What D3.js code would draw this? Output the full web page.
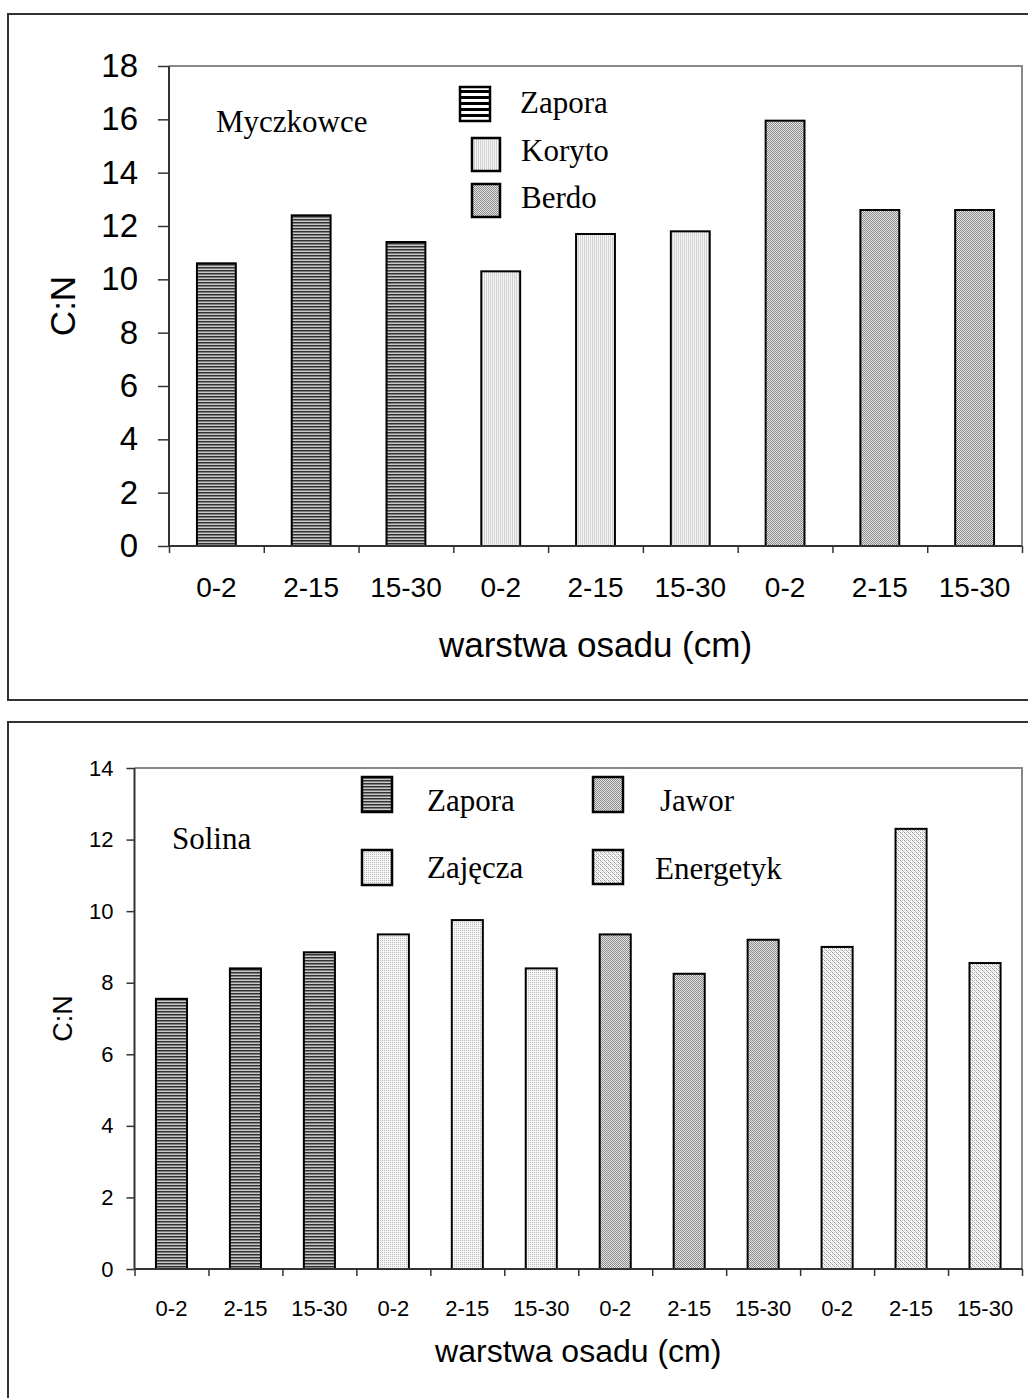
<!DOCTYPE html>
<html>
<head>
<meta charset="utf-8">
<script src="https://cdn.jsdelivr.net/npm/d3@7"></script>
<style>
  body { margin: 0; background: #fff; }
  svg { display: block; }
</style>
</head>
<body>
<div id="chart"></div>
<script>
// data
var layers = ["0-2", "2-15", "15-30"];

var sitesTop  = ["Zapora", "Koryto", "Berdo"];
var valuesTop = [
    [10.6, 12.4, 11.4],
    [10.3, 11.7, 11.8],
    [15.95, 12.6, 12.6]
];
var yTicksTop = [0, 2, 4, 6, 8, 10, 12, 14, 16, 18];

var sitesBottom  = ["Zapora", "Zajęcza", "Jawor", "Energetyk"];
var valuesBottom = [
    [7.55, 8.4, 8.85],
    [9.35, 9.75, 8.4],
    [9.35, 8.25, 9.2],
    [9.0, 12.3, 8.55]
];
var yTicksBottom = [0, 2, 4, 6, 8, 10, 12, 14];

var svg = d3.select("#chart").append("svg")
    .attr("width", 1028)
    .attr("height", 1398);

// fill patterns
var defs = svg.append("defs");

function pat(id, w, h, bg, cells) {
    var p = defs.append("pattern")
        .attr("id", id)
        .attr("patternUnits", "userSpaceOnUse")
        .attr("width", w)
        .attr("height", h);
    p.append("rect").attr("width", w).attr("height", h).attr("fill", bg);
    cells.forEach(function(c) {
        p.append("rect")
            .attr("x", c[0]).attr("y", c[1])
            .attr("width", c[2]).attr("height", c[3])
            .attr("fill", c[4]);
    });
}

pat("stripes", 4, 3, "#c8c8c8", [[0, 0, 4, 1.5, "#333"]]);
pat("stripesBig", 4, 6, "#ffffff", [[0, 0, 4, 3, "#000"]]);
pat("vlines", 2, 2, "#f6f6f6", [[0, 0, 1, 2, "#d2d2d2"]]);
pat("checker", 2, 2, "#e6e6e6", [[0, 0, 1, 1, "#8a8a8a"], [1, 1, 1, 1, "#8a8a8a"]]);
pat("dots", 2, 2, "#f7f7f7", [[0, 0, 1, 1, "#b8b8b8"]]);
pat("diag", 4, 4, "#fafafa", [[0, 0, 1, 1, "#999"], [1, 1, 1, 1, "#bbb"], [2, 2, 1, 1, "#999"], [3, 3, 1, 1, "#bbb"], [2, 0, 1, 1, "#ccc"], [0, 2, 1, 1, "#ccc"]]);

// outer frames
svg.append("rect")
    .attr("x", 8).attr("y", 14)
    .attr("width", 1100).attr("height", 686)
    .attr("fill", "none").attr("stroke", "#333").attr("stroke-width", 2);

svg.append("rect")
    .attr("x", 8).attr("y", 722)
    .attr("width", 1100).attr("height", 700)
    .attr("fill", "none").attr("stroke", "#333").attr("stroke-width", 2);


function drawChart(o) {
    var n = o.values.length * layers.length;
    var idx = d3.range(n);

    var x = d3.scaleBand()
        .domain(idx)
        .range([o.left, o.right])
        .paddingInner(o.pad)
        .paddingOuter(o.pad / 2);

    var xSlot = d3.scaleBand()
        .domain(idx)
        .range([o.left, o.right]);

    var xEdge = d3.scaleLinear()
        .domain([0, n])
        .range([o.left, o.right]);

    var y = d3.scaleLinear()
        .domain([0, o.yMax])
        .range([o.bottom, o.top]);

    var g = svg.append("g");

    // plot area border (top / right)
    g.append("path")
        .attr("d", "M" + o.left + "," + o.top + "H" + o.right + "V" + o.bottom)
        .attr("fill", "none")
        .attr("stroke", "#888")
        .attr("stroke-width", 2);

    // bars
    var flat = [];
    o.values.forEach(function(vals, s) {
        vals.forEach(function(v, l) {
            flat.push({site: s, layer: l, value: v, i: s * layers.length + l});
        });
    });

    g.selectAll(".bar")
        .data(flat)
        .enter().append("rect")
        .attr("class", "bar")
        .attr("x", function(d) { return x(d.i); })
        .attr("width", x.bandwidth())
        .attr("y", function(d) { return y(d.value); })
        .attr("height", function(d) { return o.bottom - y(d.value); })
        .attr("fill", function(d) { return "url(#" + o.fills[d.site] + ")"; })
        .attr("stroke", "#000")
        .attr("stroke-width", 2);

    // y axis
    var yAxis = g.append("g")
        .attr("transform", "translate(" + o.left + ",0)")
        .call(d3.axisLeft(y)
            .tickValues(o.yTicks)
            .tickSize(o.yTickSize)
            .tickPadding(o.yPad)
            .tickFormat(d3.format("d")));
    yAxis.select(".domain").attr("stroke", "#333").attr("stroke-width", 2)
        .attr("d", "M0," + o.top + "V" + o.bottom);
    yAxis.selectAll(".tick line").attr("stroke", "#333").attr("stroke-width", 1.5);
    yAxis.selectAll("text")
        .attr("font-family", "Arial, 'Liberation Sans', sans-serif")
        .attr("font-size", o.yFont)
        .attr("fill", "#000");

    // x axis: tick marks on category edges
    var xTicks = g.append("g")
        .attr("transform", "translate(0," + o.bottom + ")")
        .call(d3.axisBottom(xEdge)
            .tickValues(d3.range(n + 1))
            .tickSize(7)
            .tickFormat(""));
    xTicks.select(".domain").attr("stroke", "#333").attr("stroke-width", 2)
        .attr("d", "M" + o.left + ",0H" + o.right);
    xTicks.selectAll(".tick line").attr("stroke", "#333").attr("stroke-width", 1.5);

    // x axis labels
    var xLabels = g.append("g")
        .attr("transform", "translate(0," + o.bottom + ")")
        .call(d3.axisBottom(xSlot)
            .tickSize(0)
            .tickFormat(function(i) { return layers[i % layers.length]; }));
    xLabels.select(".domain").remove();
    xLabels.selectAll("text")
        .attr("y", o.xLabelDy)
        .attr("dy", 0)
        .attr("font-family", "Arial, 'Liberation Sans', sans-serif")
        .attr("font-size", o.xFont)
        .attr("fill", "#000");

    // axis titles
    g.append("text")
        .attr("x", (o.left + o.right) / 2)
        .attr("y", o.titleY)
        .attr("text-anchor", "middle")
        .attr("font-family", "Arial, 'Liberation Sans', sans-serif")
        .attr("font-size", o.titleFont)
        .text("warstwa osadu (cm)");

    g.append("text")
        .attr("transform", "translate(" + o.cnX + "," + ((o.top + o.bottom) / 2) + ") rotate(-90)")
        .attr("text-anchor", "middle")
        .attr("font-family", "Arial, 'Liberation Sans', sans-serif")
        .attr("font-size", o.cnFont)
        .text("C:N");

    // reservoir name
    g.append("text")
        .attr("x", o.name[1])
        .attr("y", o.name[2])
        .attr("font-family", "'Times New Roman', 'Liberation Serif', serif")
        .attr("font-size", o.serifFont)
        .text(o.name[0]);

    // legend
    var leg = g.selectAll(".legend")
        .data(o.sites)
        .enter().append("g")
        .attr("class", "legend");

    leg.append("rect")
        .attr("x", function(d, i) { return o.legend[i][0]; })
        .attr("y", function(d, i) { return o.legend[i][1]; })
        .attr("width", function(d, i) { return o.legend[i][2]; })
        .attr("height", function(d, i) { return o.legend[i][3]; })
        .attr("fill", function(d, i) { return "url(#" + (o.legendFills || o.fills)[i] + ")"; })
        .attr("stroke", "#000")
        .attr("stroke-width", 2.5);

    leg.append("text")
        .attr("x", function(d, i) { return o.legend[i][4]; })
        .attr("y", function(d, i) { return o.legend[i][5]; })
        .attr("font-family", "'Times New Roman', 'Liberation Serif', serif")
        .attr("font-size", o.serifFont)
        .text(function(d) { return d; });
}

drawChart({
    values: valuesTop,
    sites: sitesTop,
    yTicks: yTicksTop,
    yMax: 18,
    left: 169, right: 1022, top: 66, bottom: 546,
    pad: 0.59,
    fills: ["stripes", "vlines", "checker"],
    legendFills: ["stripesBig", "vlines", "checker"],
    yTickSize: 11, yPad: 20, yFont: 33,
    xFont: 28, xLabelDy: 51,
    titleFont: 35, titleY: 657,
    cnFont: 35, cnX: 75,
    serifFont: 31,
    name: ["Myczkowce", 216, 132],
    legend: [
        [460, 87, 30, 34, 520, 113],
        [472, 138, 28, 33, 521, 161],
        [472, 184, 28, 33, 521, 208]
    ]
});

drawChart({
    values: valuesBottom,
    sites: sitesBottom,
    yTicks: yTicksBottom,
    yMax: 14,
    left: 134.5, right: 1022, top: 768, bottom: 1269,
    pad: 0.58,
    fills: ["stripes", "dots", "checker", "diag"],
    yTickSize: 8, yPad: 13, yFont: 22,
    xFont: 22, xLabelDy: 47,
    titleFont: 32, titleY: 1362,
    cnFont: 27, cnX: 72,
    serifFont: 31,
    name: ["Solina", 172, 849],
    legend: [
        [362, 777, 30, 35, 427, 811],
        [362, 850, 30, 35, 427, 878],
        [593, 777, 30, 35, 660, 811],
        [593, 850, 30, 34, 655, 879]
    ]
});
</script>
</body>
</html>
